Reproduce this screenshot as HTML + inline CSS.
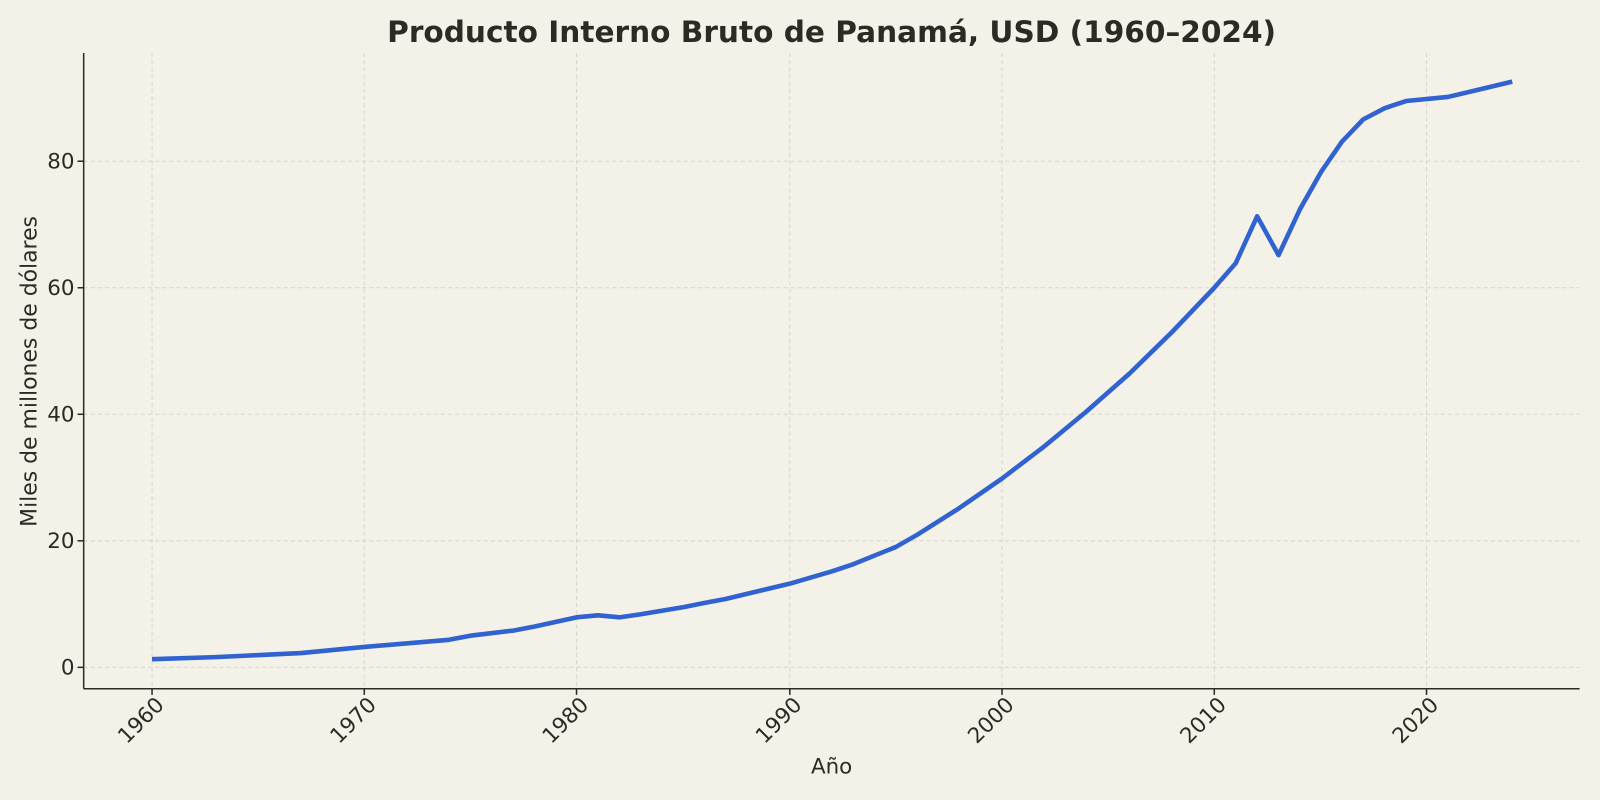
<!DOCTYPE html>
<html><head><meta charset="utf-8"><style>
html,body{margin:0;padding:0;background:#f4f2e8;}
svg{display:block;font-family:"DejaVu Sans","Liberation Sans",sans-serif;}
</style></head><body>
<svg width="1600" height="800" viewBox="0 0 1600 800">
<rect width="1600" height="800" fill="#f4f2e8"/>
<g transform="scale(1.0204)">
<text x="815" y="41" text-anchor="middle" font-size="29" font-weight="bold" fill="#2b2b24">Producto Interno Bruto de Panamá, USD (1960–2024)</text>
<g stroke="#d8d6cc" stroke-width="1" stroke-dasharray="4,3">
<line x1="149" y1="52" x2="149" y2="675"/><line x1="357" y1="52" x2="357" y2="675"/>
<line x1="565" y1="52" x2="565" y2="675"/><line x1="774" y1="52" x2="774" y2="675"/>
<line x1="982" y1="52" x2="982" y2="675"/><line x1="1190" y1="52" x2="1190" y2="675"/>
<line x1="1398" y1="52" x2="1398" y2="675"/>
<line x1="82" y1="654" x2="1548" y2="654"/><line x1="82" y1="530" x2="1548" y2="530"/>
<line x1="82" y1="406" x2="1548" y2="406"/><line x1="82" y1="282" x2="1548" y2="282"/>
<line x1="82" y1="158" x2="1548" y2="158"/>
</g>
<g stroke="#2b2b24" stroke-width="1.5">
<line x1="82" y1="52" x2="82" y2="675"/><line x1="82" y1="675" x2="1548" y2="675"/>
<line x1="76" y1="654" x2="82" y2="654"/><line x1="76" y1="530" x2="82" y2="530"/>
<line x1="76" y1="406" x2="82" y2="406"/><line x1="76" y1="282" x2="82" y2="282"/>
<line x1="76" y1="158" x2="82" y2="158"/>
<line x1="149" y1="675" x2="149" y2="681"/><line x1="357" y1="675" x2="357" y2="681"/>
<line x1="565" y1="675" x2="565" y2="681"/><line x1="774" y1="675" x2="774" y2="681"/>
<line x1="982" y1="675" x2="982" y2="681"/><line x1="1190" y1="675" x2="1190" y2="681"/>
<line x1="1398" y1="675" x2="1398" y2="681"/>
</g>
<g font-size="21" fill="#2b2b24" text-anchor="end">
<text x="73" y="661">0</text><text x="73" y="537">20</text><text x="73" y="413">40</text>
<text x="73" y="289">60</text><text x="73" y="165">80</text>
</g>
<g font-size="21" fill="#2b2b24" text-anchor="end">
<text transform="translate(162,692) rotate(-45)">1960</text>
<text transform="translate(370,692) rotate(-45)">1970</text>
<text transform="translate(578,692) rotate(-45)">1980</text>
<text transform="translate(787,692) rotate(-45)">1990</text>
<text transform="translate(995,692) rotate(-45)">2000</text>
<text transform="translate(1203,692) rotate(-45)">2010</text>
<text transform="translate(1411,692) rotate(-45)">2020</text>
</g>
<text x="815" y="758" text-anchor="middle" font-size="21" fill="#2b2b24">Año</text>
<text transform="translate(36,364) rotate(-90)" text-anchor="middle" font-size="21.5" fill="#2b2b24">Miles de millones de dólares</text>
<polyline fill="none" stroke="#3062d0" stroke-width="4.5" stroke-linejoin="round" points="149,646 211,644 232,643 295,640 357,634 440,627 461,623 503,618 524,614 565,605 586,603 607,605 628,602 670,595 690,591 711,587 774,572 815,560 836,553 878,536 899,524 940,498 982,469 1024,437 1065,403 1107,366 1149,325 1190,282 1211,258 1232,212 1253,250 1274,205 1295,168 1315,139 1336,117 1357,106 1378,99 1419,95 1440,90 1461,85 1482,80"/>
</g>
</svg>
</body></html>
